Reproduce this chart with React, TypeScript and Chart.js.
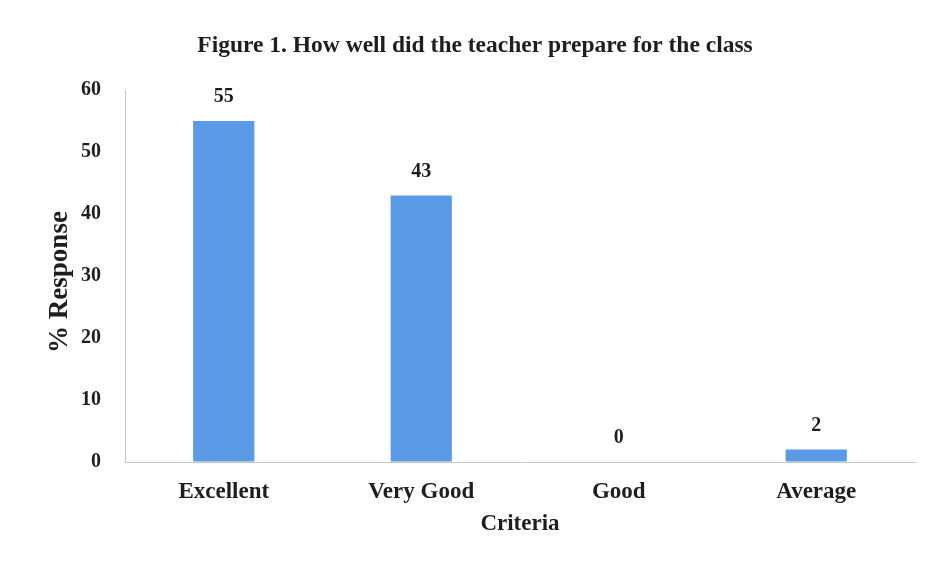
import React, { useEffect, useRef } from "react";
import { Chart, registerables } from "chart.js";

Chart.register(...registerables);

const categories = ["Excellent", "Very Good", "Good", "Average"];
const responses = [55, 43, 0, 2];
const yMin = 0;
const yMax = 60;
const yStep = 10;
const chartTitle = "Figure 1. How well did the teacher prepare for the class";
const xAxisTitle = "Criteria";
const yAxisTitle = "% Response";

const FONT = "'Liberation Serif', 'Times New Roman', serif";
const TEXT = "#1e1e1e";

const valueLabels = {
  id: "valueLabels",
  afterDatasetsDraw(chart: any) {
    const ctx = chart.ctx;
    const meta = chart.getDatasetMeta(0);
    ctx.save();
    ctx.font = `bold 20px ${FONT}`;
    ctx.fillStyle = TEXT;
    ctx.textAlign = "center";
    ctx.textBaseline = "middle";
    meta.data.forEach((bar: any, i: number) => {
      ctx.fillText(String(responses[i]), bar.x, bar.y - 24);
    });
    ctx.restore();
  },
};

const titles = {
  id: "titles",
  afterDraw(chart: any) {
    const ctx = chart.ctx;
    const area = chart.chartArea;
    ctx.save();
    ctx.fillStyle = TEXT;
    ctx.textAlign = "center";
    ctx.textBaseline = "middle";
    ctx.font = `bold 23.5px ${FONT}`;
    ctx.fillText(chartTitle, 467, 38);
    ctx.translate(52, (area.top + area.bottom) / 2 + 6);
    ctx.rotate(-Math.PI / 2);
    ctx.font = `bold 27px ${FONT}`;
    ctx.fillText(yAxisTitle, 0, 0);
    ctx.restore();
  },
};

export default function App() {
  const ref = useRef<HTMLCanvasElement>(null);

  useEffect(() => {
    if (!ref.current) return;
    const chart = new Chart(ref.current, {
      type: "bar",
      data: {
        labels: categories,
        datasets: [
          {
            data: responses,
            backgroundColor: "#5b9ae6",
            borderWidth: 0,
            barPercentage: 0.62,
            categoryPercentage: 0.5,
          },
        ],
      },
      options: {
        responsive: true,
        maintainAspectRatio: false,
        animation: false,
        layout: { padding: { left: 0, right: 7, top: 82, bottom: 0 } },
        plugins: {
          legend: { display: false },
          tooltip: { enabled: false },
          title: { display: false },
        },
        scales: {
          x: {
            grid: { display: false, drawTicks: false },
            border: { display: true, color: "#c4c4c4", dash: [2, 2], width: 1 },
            ticks: {
              color: TEXT,
              font: { family: FONT, size: 23, weight: "bold" },
              padding: 16,
            },
            title: {
              display: true,
              text: xAxisTitle,
              color: TEXT,
              font: { family: FONT, size: 23, weight: "bold" },
              padding: { top: 4, bottom: 19 },
            },
            afterFit: (scale: any) => {
              scale.height = 95;
            },
          },
          y: {
            min: yMin,
            max: yMax,
            z: 1,
            grid: { color: "rgba(255,255,255,0.3)", drawTicks: false },
            border: { display: true, color: "#c4c4c4", dash: [2, 2], width: 1 },
            ticks: {
              stepSize: yStep,
              color: TEXT,
              font: { family: FONT, size: 20, weight: "bold" },
              padding: 24,
            },
            title: { display: false },
            afterFit: (scale: any) => {
              scale.width = 117;
            },
          },
        },
      },
      plugins: [valueLabels, titles],
    });
    return () => chart.destroy();
  }, []);

  return (
    <div style={{ position: "relative", width: 914, height: 549, background: "#fff" }}>
      <canvas ref={ref} />
    </div>
  );
}
